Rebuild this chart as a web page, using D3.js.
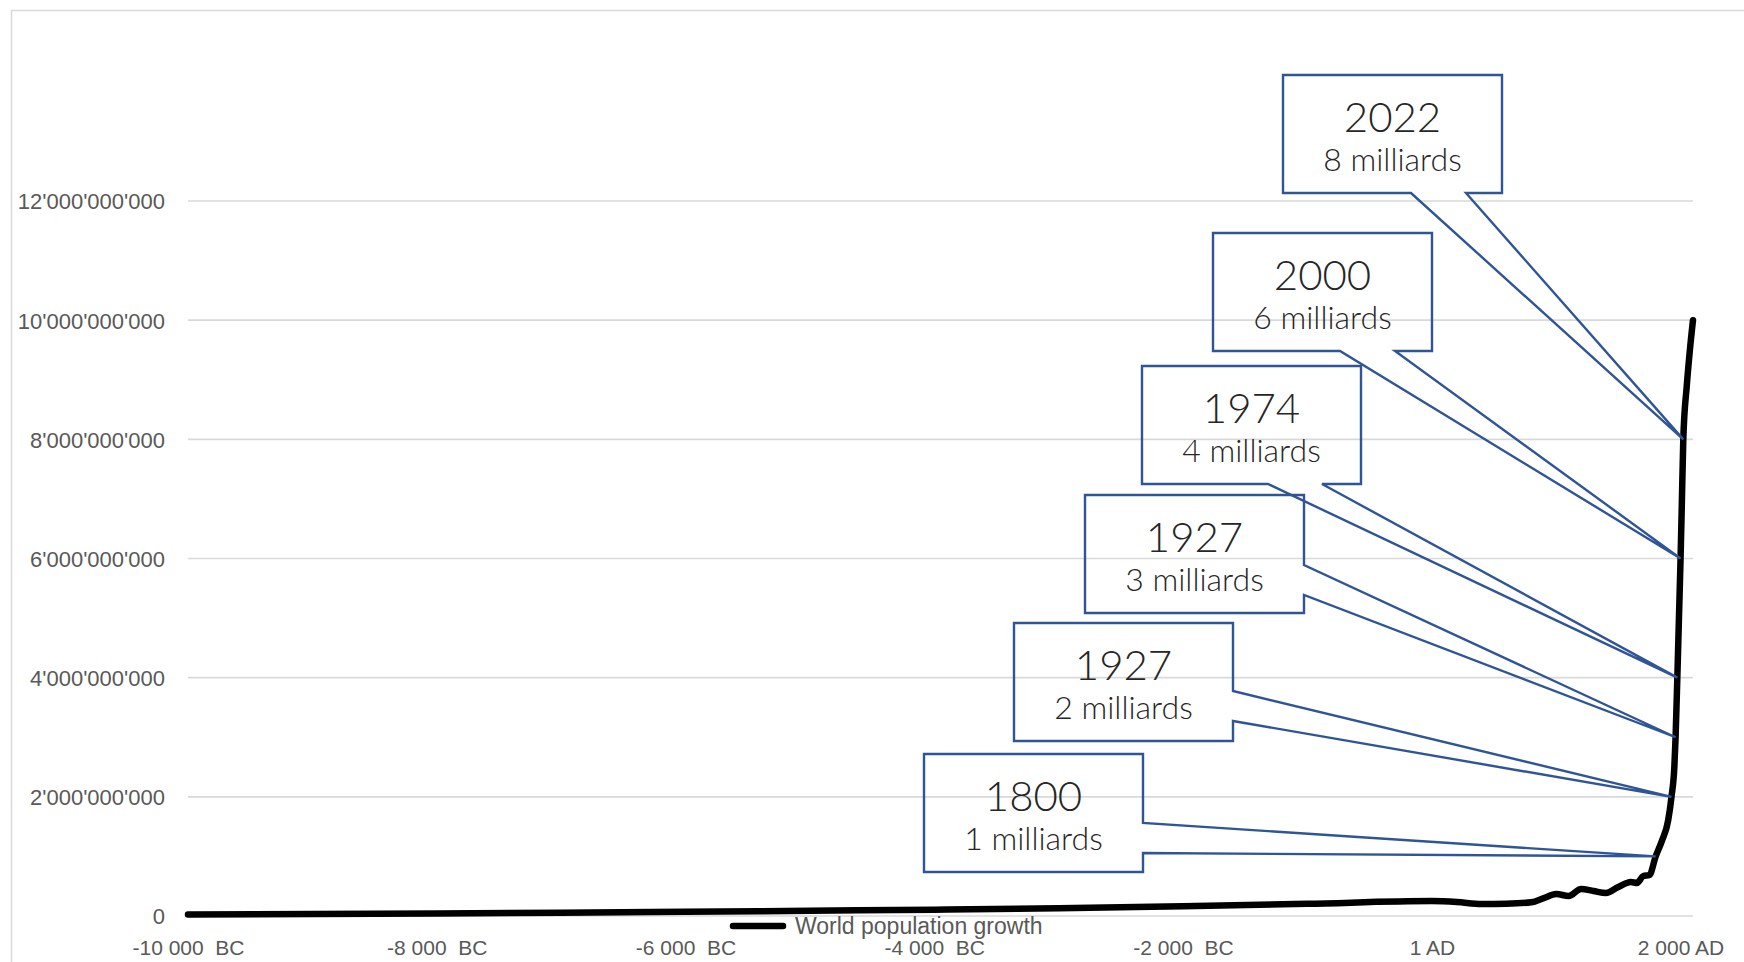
<!DOCTYPE html>
<html>
<head>
<meta charset="utf-8">
<script src="https://cdn.jsdelivr.net/npm/d3@7"></script>
<style>
  html, body { margin: 0; padding: 0; background: #ffffff; }
  svg { display: block; }
  .tick-label { font-family: "Liberation Sans", Arial, sans-serif; font-size: 21px; fill: #595959; white-space: pre; }
  .y-label { font-size: 22px; }
  .legend-label { font-size: 23px; }
  .callout-year { font-family: Lato, "Open Sans", sans-serif; font-weight: 300; font-size: 42px; fill: #262626; }
  .callout-value { font-family: Lato, "Open Sans", sans-serif; font-weight: 300; font-size: 32px; fill: #262626; }
</style>
</head>
<body>
<svg id="chart" width="1744" height="962"></svg>
<script>
// World population, in millions, by year (negative years are BC)
const years = [-10000, -9000, -8000, -7000, -6000, -5000, -4000, -3000, -2000, -1000,
  1, 200, 400, 600, 800, 900, 1000, 1100, 1200, 1300, 1400, 1500, 1600, 1650, 1700,
  1750, 1800, 1850, 1900, 1927, 1950, 1960, 1974, 1987, 2000, 2010, 2022, 2050, 2075, 2100];
const populationMillions = [25, 32, 42, 55, 70, 88, 105, 128, 165, 205,
  250, 235, 200, 205, 230, 300, 370, 335, 453, 420, 386, 487, 570, 554, 671,
  688, 1000, 1260, 1600, 2000, 2500, 3000, 4000, 5000, 6000, 6900, 8000, 8900, 9500, 10000];

// Axis ticks
const yTicks = [0, 2e9, 4e9, 6e9, 8e9, 10e9, 12e9];
const xTicks = [-10000, -8000, -6000, -4000, -2000, 1, 2000];
const xTickLabels = ["-10 000  BC", "-8 000  BC", "-6 000  BC", "-4 000  BC", "-2 000  BC", "1 AD", "2 000 AD"];

// Milestones: year shown and population reached (milliards)
const milestoneYears = ["2022", "2000", "1974", "1927", "1927", "1800"];
const milestoneValues = [8, 6, 4, 3, 2, 1];
const seriesName = "World population growth";

// Callout box placement (left/top of the box, which edge the pointer leaves from, pointer base offsets)
const calloutLayout = [
  { left: 1283, top: 75,  edge: "bottom", a: 128, b: 183 },
  { left: 1213, top: 233, edge: "bottom", a: 127, b: 182 },
  { left: 1142, top: 366, edge: "bottom", a: 126, b: 180 },
  { left: 1085, top: 495, edge: "right",  a: 70,  b: 100 },
  { left: 1014, top: 623, edge: "right",  a: 68,  b: 98 },
  { left: 924,  top: 754, edge: "right",  a: 69,  b: 99 }
];
const boxW = 219, boxH = 118;

const svg = d3.select("#chart");

// Outer chart frame
svg.append("rect")
  .attr("x", 11.5).attr("y", 10.5)
  .attr("width", 1900).attr("height", 1100)
  .attr("fill", "none").attr("stroke", "#d9d9d9").attr("stroke-width", 1.5);

const x = d3.scaleLinear().domain([-10000, 2100]).range([188, 1693]);
const y = d3.scaleLinear().domain([0, 12e9]).range([916, 201]);

// Horizontal gridlines
svg.append("g").selectAll("line").data(yTicks).join("line")
  .attr("x1", x.range()[0]).attr("x2", x.range()[1])
  .attr("y1", d => y(d)).attr("y2", d => y(d))
  .attr("stroke", "#d9d9d9").attr("stroke-width", 1.6);

// Y axis labels with apostrophe thousands separators
const fmt = d => d3.format(",")(d).replace(/,/g, "'");
const yAxis = d3.axisLeft(y).tickValues(yTicks).tickFormat(fmt).tickSize(0).tickPadding(0);
const gy = svg.append("g").attr("transform", "translate(165,0)").call(yAxis);
gy.select(".domain").remove();
gy.selectAll("text").attr("class", "tick-label y-label").attr("dy", "0.36em")
  .attr("font-family", null).attr("font-size", null).attr("fill", null);

// X axis labels
const xAxis = d3.axisBottom(x).tickValues(xTicks)
  .tickFormat((d, i) => xTickLabels[i]).tickSize(0).tickPadding(0);
const gx = svg.append("g").attr("transform", "translate(0,955)").call(xAxis);
gx.select(".domain").remove();
gx.selectAll("text").attr("class", "tick-label").attr("dy", "0")
  .attr("font-family", null).attr("font-size", null).attr("fill", null);

// Population line
const data = years.map((yr, i) => ({ year: yr, pop: populationMillions[i] * 1e6 }));
const line = d3.line().x(d => x(d.year)).y(d => y(d.pop)).curve(d3.curveMonotoneX);
svg.append("path").datum(data)
  .attr("d", line)
  .attr("fill", "none").attr("stroke", "#000000")
  .attr("stroke-width", 6.5).attr("stroke-linejoin", "round").attr("stroke-linecap", "round");

// Year at which the series first reaches a population value
function yearReaching(value) {
  for (let i = 1; i < data.length; i++) {
    if (data[i].pop >= value) {
      const p = data[i - 1], q = data[i];
      return p.year + (value - p.pop) / (q.pop - p.pop) * (q.year - p.year);
    }
  }
  return data[data.length - 1].year;
}

// Callouts
const callouts = svg.append("g");
milestoneValues.forEach((v, i) => {
  const L = calloutLayout[i];
  const tx = x(yearReaching(v * 1e9)), ty = y(v * 1e9);
  const l = L.left, t = L.top, r = l + boxW, b = t + boxH;
  let d;
  if (L.edge === "bottom") {
    d = `M${l},${t}H${r}V${b}H${l + L.b}L${tx},${ty}L${l + L.a},${b}H${l}Z`;
  } else {
    d = `M${l},${t}H${r}V${t + L.a}L${tx},${ty}L${r},${t + L.b}V${b}H${l}Z`;
  }
  callouts.append("path").attr("d", d)
    .attr("fill", "none").attr("stroke", "#2f5597").attr("stroke-width", 2.4)
    .attr("stroke-linejoin", "miter");
  callouts.append("text").attr("class", "callout-year")
    .attr("x", l + boxW / 2).attr("y", t + 57).attr("text-anchor", "middle")
    .text(milestoneYears[i]);
  callouts.append("text").attr("class", "callout-value")
    .attr("x", l + boxW / 2).attr("y", t + 96).attr("text-anchor", "middle")
    .text(`${v} milliards`);
});

// Legend
const legend = svg.append("g").attr("transform", "translate(731,926)");
legend.append("line").attr("x1", 2).attr("x2", 52).attr("y1", 0).attr("y2", 0)
  .attr("stroke", "#000").attr("stroke-width", 6.5).attr("stroke-linecap", "round");
legend.append("text").attr("class", "tick-label legend-label").attr("x", 64).attr("y", 0).attr("dy", "0.35em")
  .text(seriesName);
</script>
</body>
</html>
